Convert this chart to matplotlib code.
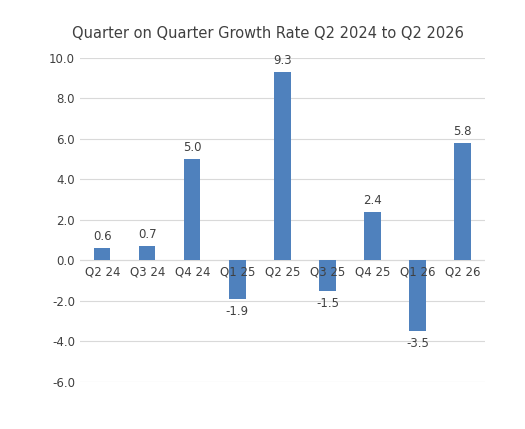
import matplotlib
matplotlib.use("Agg")
import matplotlib.pyplot as plt

categories = ["Q2 24", "Q3 24", "Q4 24", "Q1 25", "Q2 25", "Q3 25", "Q4 25", "Q1 26", "Q2 26"]
values = [0.6, 0.7, 5.0, -1.9, 9.3, -1.5, 2.4, -3.5, 5.8]
yticks = [-6, -4, -2, 0, 2, 4, 6, 8, 10]

fig = plt.figure(figsize=(5.25, 4.29), dpi=100)
ax = fig.add_axes([0.152, 0.110, 0.772, 0.755])
x = list(range(len(categories)))
ax.bar(x, values, width=0.36, color="#4F81BD", zorder=3)
ax.set_ylim(-6, 10)
ax.set_xlim(-0.5, len(categories) - 0.5)
ax.set_yticks(yticks)
ax.set_yticklabels([f"{v:.1f}" for v in yticks], fontsize=8.5, color="#404040")
ax.yaxis.grid(True, color="#D9D9D9", linewidth=0.8, zorder=0)
ax.tick_params(length=0)
ax.set_xticks([])
for s in ax.spines.values():
    s.set_visible(False)
ax.axhline(0, color="#D9D9D9", linewidth=0.8, zorder=2)
for xi, c in zip(x, categories):
    ax.text(xi, -0.25, c, ha="center", va="top", fontsize=8.5, color="#404040", zorder=4)
for xi, v in zip(x, values):
    if v >= 0:
        ax.text(xi, v + 0.25, f"{v:.1f}", ha="center", va="bottom", fontsize=8.5, color="#404040")
    else:
        ax.text(xi, v - 0.3, f"{v:.1f}", ha="center", va="top", fontsize=8.5, color="#404040")
fig.text(0.51, 0.923, "Quarter on Quarter Growth Rate Q2 2024 to Q2 2026", ha="center", va="center",
         fontsize=10.5, color="#404040")
fig.savefig("out.png", dpi=100)
